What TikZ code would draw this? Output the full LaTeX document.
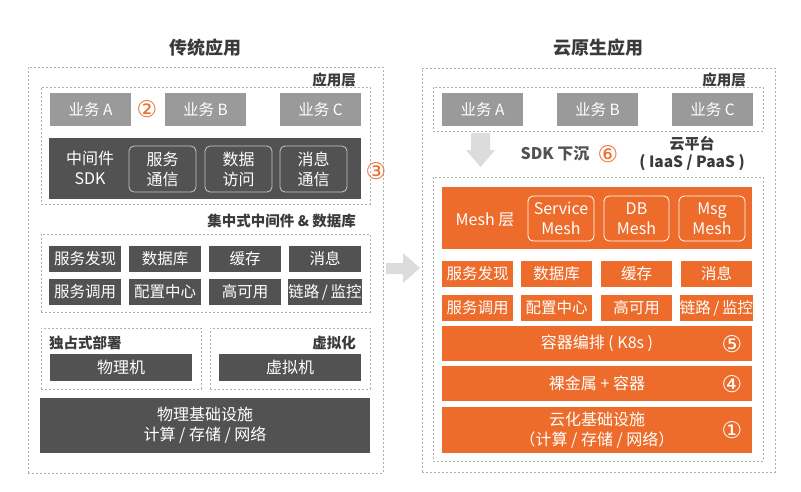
\documentclass[tikz,border=0pt]{standalone}
\usepackage{fontspec}
\setmainfont{Noto Sans CJK SC}
\newfontfamily\circfont{DejaVu Sans}
\definecolor{dk}{HTML}{525252}
\definecolor{gy}{HTML}{9A9A9A}
\definecolor{og}{HTML}{EE6C2B}
\definecolor{dl}{HTML}{B0B0B0}
\definecolor{lb}{HTML}{3A3A3A}
\definecolor{ar}{HTML}{DCDCDC}
\definecolor{rb}{HTML}{C8C8C8}
\newcommand\bx[7]{\node[#2, minimum width={(#5-#3)*1pt}, minimum height={(#6-#4)*1pt}] (#1) at ({(#3+#5)/2},{(#4+#6)/2}) {#7};}
\tikzset{
  x=1pt, y=-1pt,
  region/.style={draw=dl, dash pattern=on 2pt off 2pt, line width=0.8pt, inner sep=0pt, outer sep=0pt},
  gbox/.style={fill=gy, text=white, font=\fontsize{15.5}{18}\selectfont, inner sep=0pt},
  dbox/.style={fill=dk, text=white, font=\fontsize{16}{20}\selectfont, inner sep=0pt, align=center},
  obox/.style={fill=og, text=white, font=\fontsize{16}{20}\selectfont, inner sep=0pt, align=center},
  rbox/.style={draw=rb, rounded corners=5pt, line width=0.8pt, text=white, font=\fontsize{16}{20}\selectfont, inner sep=0pt, align=center},
  wbox/.style={rbox, draw=white},
  wtext/.style={text=white, font=\fontsize{16}{20}\selectfont, inner sep=0pt, align=center},
  sbox/.style={dbox, font=\fontsize{15.5}{18}\selectfont},
  sobox/.style={obox, font=\fontsize{15.5}{18}\selectfont},
  lbl/.style={text=lb, font=\bfseries\fontsize{14.5}{18}\selectfont, inner sep=0pt, align=center},
  ttl/.style={text=lb, font=\bfseries\fontsize{18}{20}\selectfont, inner sep=0pt},
  num/.style={text=og, font=\circfont\fontsize{23}{24}\selectfont, inner sep=0pt},
  wnum/.style={text=white, font=\circfont\fontsize{23}{24}\selectfont, inner sep=0pt},
}
\begin{document}
\begin{tikzpicture}
\fill[white] (0,0) rectangle (801,491);
\useasboundingbox (0,0) rectangle (801,491);
% ---------------- left ----------------
\node[ttl] (Lt) at (205,48) {传统应用};
\bx{L}{region}{28}{67}{383}{473}{}
\node[lbl, anchor=east] (Lappl) at (356,80) {应用层};
\bx{Lapp}{region}{41}{87}{370}{204}{}
\bx{LA}{gbox}{50}{93}{131}{126}{业务 A}
\bx{LB}{gbox}{165}{93}{246}{126}{业务 B}
\bx{LC}{gbox}{280}{93}{361}{126}{业务 C}
\node[num] (n2) at (147,109) {②};
\bx{Lsdk}{dbox}{49}{138}{361}{199}{}
\node[wtext] (Lsdkt) at (90,168) {中间件\\SDK};
\bx{Ls1}{rbox}{129}{146}{196}{192}{服务\\通信}
\bx{Ls2}{rbox}{205}{146}{272}{192}{数据\\访问}
\bx{Ls3}{rbox}{280}{146}{347}{192}{消息\\通信}
\node[num] (n3) at (376,171) {③};
\node[lbl, anchor=east] (Lmwl) at (356,221) {集中式中间件 \& 数据库};
\bx{Lmw}{region}{41}{234}{370}{312}{}
\bx{Lm1}{sbox}{49}{246}{121}{272}{服务发现}
\bx{Lm2}{sbox}{129}{246}{201}{272}{数据库}
\bx{Lm3}{sbox}{209}{246}{281}{272}{缓存}
\bx{Lm4}{sbox}{289}{246}{361}{272}{消息}
\bx{Lm5}{sbox}{49}{279}{121}{305}{服务调用}
\bx{Lm6}{sbox}{129}{279}{201}{305}{配置中心}
\bx{Lm7}{sbox}{209}{279}{281}{305}{高可用}
\bx{Lm8}{sbox}{289}{279}{361}{305}{链路\,/\,监控}
\bx{Ldep}{region}{41}{328}{201}{389}{}
\bx{Lvir}{region}{210}{328}{370}{389}{}
\node[lbl, anchor=west] (Ldepl) at (49,343) {独占式部署};
\node[lbl, anchor=east] (Lvirl) at (356,343) {虚拟化};
\bx{Lpm}{dbox}{50}{354}{192}{381}{物理机}
\bx{Lvm}{dbox}{219}{354}{361}{381}{虚拟机}
\bx{Linf}{dbox}{40}{398}{370}{453}{物理基础设施\\计算 / 存储 / 网络}
% ---------------- arrow between ----------------
\fill[ar] (386,263) -- (403,263) -- (403,253) -- (420,268) -- (403,283) -- (403,274) -- (386,274) -- cycle;
% ---------------- right ----------------
\node[ttl] (Rt) at (598,48) {云原生应用};
\bx{R}{region}{422}{68}{775}{472}{}
\node[lbl, anchor=east] (Rappl) at (746,80) {应用层};
\bx{Rapp}{region}{433}{87}{763}{131}{}
\bx{RA}{gbox}{442}{93}{523}{126}{业务 A}
\bx{RB}{gbox}{557}{93}{638}{126}{业务 B}
\bx{RC}{gbox}{672}{93}{753}{126}{业务 C}
\fill[ar] (471,133) -- (490,133) -- (490,150) -- (495,150) -- (480.5,167) -- (466,150) -- (471,150) -- cycle;
\node[lbl, text=dk, font=\bfseries\fontsize{16}{18}\selectfont] (sdk) at (555,154) {SDK 下沉};
\node[num] (n6) at (608,154) {⑥};
\node[lbl, font=\bfseries\fontsize{15}{18}\selectfont] (cp) at (692,144) {云平台};
\node[lbl, font=\bfseries\fontsize{15.5}{18}\selectfont] (cp2) at (692,163) {( IaaS / PaaS )};
\bx{Rcp}{region}{433}{177}{763}{461}{}
\bx{Rmesh}{obox}{442}{187}{752}{249}{}
\node[wtext] (Rmeshl) at (485,220) {Mesh 层};
\bx{Rr1}{wbox}{528}{196}{594}{241}{Service\\Mesh}
\bx{Rr2}{wbox}{604}{196}{669}{241}{DB\\Mesh}
\bx{Rr3}{wbox}{679}{196}{745}{241}{Msg\\Mesh}
\bx{Rm1}{sobox}{442}{261}{513}{287}{服务发现}
\bx{Rm2}{sobox}{521}{261}{592}{287}{数据库}
\bx{Rm3}{sobox}{601}{261}{672}{287}{缓存}
\bx{Rm4}{sobox}{681}{261}{752}{287}{消息}
\bx{Rm5}{sobox}{442}{295}{513}{321}{服务调用}
\bx{Rm6}{sobox}{521}{295}{592}{321}{配置中心}
\bx{Rm7}{sobox}{601}{295}{672}{321}{高可用}
\bx{Rm8}{sobox}{681}{295}{752}{321}{链路\,/\,监控}
\bx{Rk8s}{obox}{442}{326}{752}{361}{容器编排 ( K8s )}
\bx{Rbm}{obox}{442}{366}{752}{401}{裸金属 + 容器}
\bx{Rinf}{obox}{442}{407}{752}{453}{云化基础设施\\（计算 / 存储 / 网络）}
\node[wnum] (n5) at (732,344) {⑤};
\node[wnum] (n4) at (732,384) {④};
\node[wnum] (n1) at (732,430) {①};
\end{tikzpicture}
\end{document}
